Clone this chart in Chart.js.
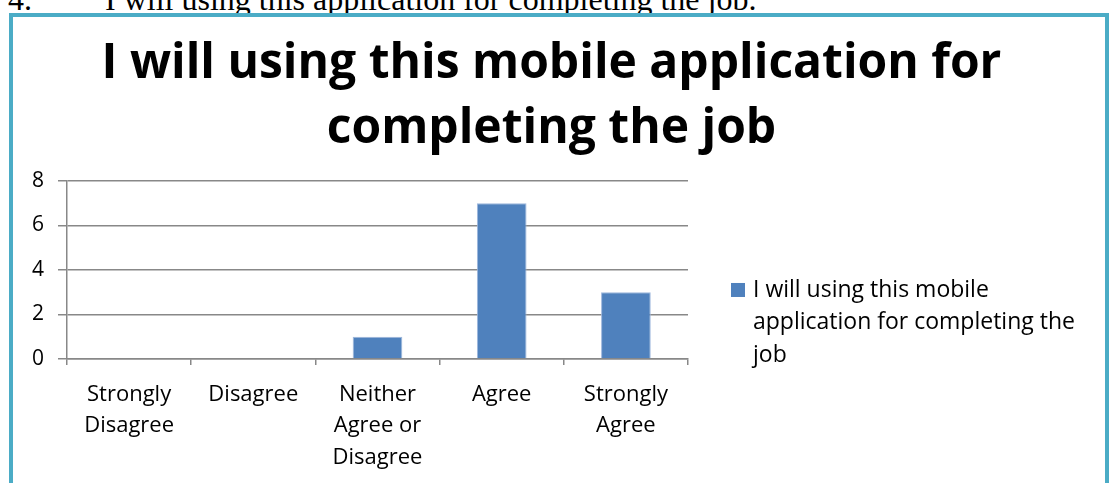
<!DOCTYPE html>
<html>
<head>
<meta charset="utf-8">
<script src="https://cdn.jsdelivr.net/npm/chart.js@4"></script>
<style>
  body { margin: 0; width: 1111px; height: 483px; overflow: hidden; background: #fff; position: relative; }
  .caption { position: absolute; top: -17px; font-family: "Liberation Serif", serif; font-size: 32px; line-height: 32px; white-space: pre; color: #000; }
  #frame { position: absolute; left: 9px; top: 13px; width: 1092px; height: 520px; border: 4px solid #4BACC6; background: #fff; }
  #chart { position: absolute; left: 0; top: 0; }
</style>
</head>
<body>
<div class="caption" style="left:8px">4.</div>
<div class="caption" style="left:105px">I will using this application for completing the job.</div>
<div id="frame"></div>
<canvas id="chart" width="1111" height="483"></canvas>
<script>
// categorias e valores
const categorias = [
    ['Strongly', 'Disagree'],
    'Disagree',
    ['Neither', 'Agree or', 'Disagree'],
    'Agree',
    ['Strongly', 'Agree']
];
const respostas = [0, 0, 1, 7, 3];
const titulo = ['I will using this mobile application for', 'completing the job'];
const serieNome = 'I will using this mobile application for completing the job';
const yTicks = [0, 2, 4, 6, 8];

const FONTE = '"Open Sans", sans-serif';
const AZUL = '#4F81BD';

// legenda desenhada à mão (texto quebrado em linhas)
const legendaLateral = {
    id: 'legendaLateral',
    afterDraw(chart) {
        const ctx = chart.ctx;
        const area = chart.chartArea;
        const ds = chart.data.datasets[0];
        ctx.save();
        ctx.font = '23px ' + FONTE;
        const palavras = ds.label.split(' ');
        let linhas = [], atual = '';
        palavras.forEach(p => {
            const teste = atual ? atual + ' ' + p : p;
            if (ctx.measureText(teste).width > 335 && atual) {
                linhas.push(atual);
                atual = p;
            } else {
                atual = teste;
            }
        });
        linhas.push(atual);
        const x = area.right + 43;
        const y0 = area.top + 109;
        ctx.fillStyle = ds.backgroundColor;
        ctx.fillRect(x, y0 - 7, 14, 14);
        ctx.fillStyle = '#000';
        ctx.textBaseline = 'middle';
        linhas.forEach((l, i) => ctx.fillText(l, x + 22, y0 + i * 32.5));
        ctx.restore();
    }
};

new Chart(document.getElementById('chart'), {
    type: 'bar',
    data: {
        labels: categorias,
        datasets: [{
            label: serieNome,
            data: respostas,
            backgroundColor: AZUL,
            borderColor: '#9DB6DC',
            borderWidth: 1,
            barPercentage: 0.4,
            categoryPercentage: 1.0
        }]
    },
    options: {
        responsive: false,
        animation: false,
        layout: { padding: { left: 0, right: 8, top: 0, bottom: 0 } },
        plugins: {
            legend: { display: false },
            tooltip: { enabled: false },
            title: {
                display: true,
                text: titulo,
                color: '#000',
                font: { family: FONTE, size: 48, weight: 'bold', lineHeight: 1.354 },
                padding: { top: 32, bottom: 19 }
            }
        },
        scales: {
            x: {
                afterFit: s => { s.height = 124; },
                grid: { drawOnChartArea: false, drawTicks: true, tickLength: 6, color: '#888', lineWidth: 1.5, offset: true },
                border: { color: '#888', width: 1.5 },
                ticks: { color: '#000', font: { family: FONTE, size: 22, lineHeight: 1.43 }, maxRotation: 0, autoSkip: false, padding: 14 }
            },
            y: {
                min: 0,
                max: 8,
                afterFit: s => { s.width = 67; },
                afterBuildTicks: s => { s.ticks = yTicks.map(v => ({ value: v })); },
                grid: { color: '#888', lineWidth: 1.5, tickLength: 9 },
                border: { color: '#888', width: 1.5 },
                ticks: { color: '#000', font: { family: FONTE, size: 21 }, padding: 14 }
            },
            // espaço vazio à direita para a legenda
            lado: {
                position: 'right',
                afterFit: s => { s.width = 415; },
                grid: { display: false },
                border: { display: false },
                ticks: { display: false }
            }
        }
    },
    plugins: [legendaLateral]
});
</script>
</body>
</html>
